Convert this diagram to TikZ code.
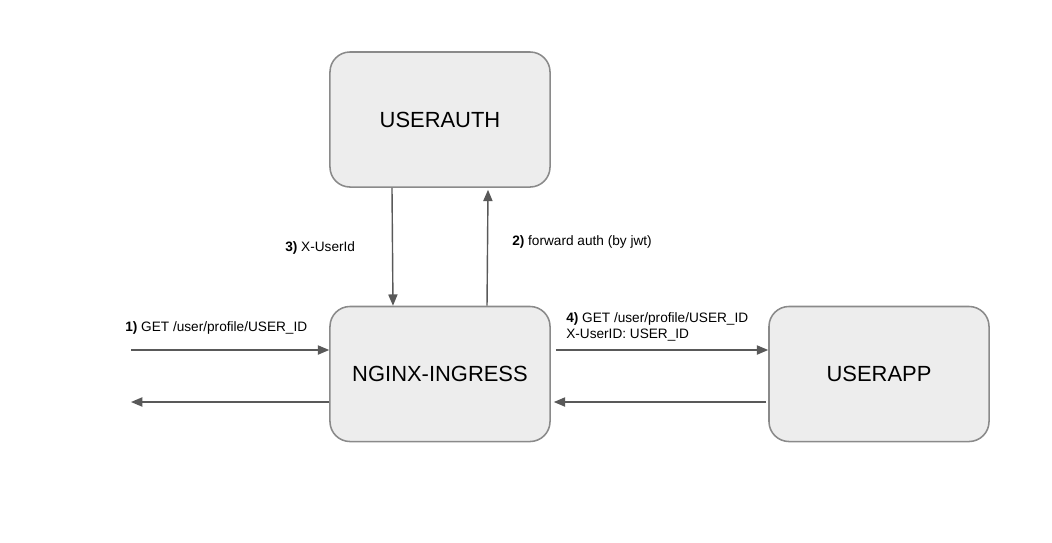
\documentclass[tikz,border=0pt]{standalone}
\usepackage{fontspec}
\setmainfont{Liberation Sans}
\usetikzlibrary{positioning,arrows.meta,calc}
\definecolor{boxfill}{HTML}{EDEDED}
\definecolor{boxline}{HTML}{8A8A8A}
\definecolor{arrowgray}{HTML}{595959}

\begin{document}
\begin{tikzpicture}[x=0.025cm, y=-0.025cm,
    service/.style = {draw=boxline, fill=boxfill, line width=1.1pt, rounded corners=0.5cm,
                      minimum width=5.5cm, minimum height=3.375cm, font=\fontsize{15.6}{18}\selectfont},
    flow/.style = {draw=arrowgray, line width=1pt, -{Triangle[length=8pt, width=6.5pt]}},
    note/.style = {anchor=west, font=\fontsize{9.7}{11.5}\selectfont, inner sep=0pt, align=left}]
    \useasboundingbox (0, 0) rectangle (1052, 542);
    % SERVICES
    \node[service] (userauth) at (440, 119.5) {USERAUTH};
    \node[service] (nginx) at (440, 374) {NGINX-INGRESS};
    \node[service] (userapp) at (879, 374) {USERAPP};
    % CLIENT SIDE
    \coordinate (clientin) at (131, 350);
    \coordinate (clientout) at (131, 402);
    \draw[flow] (clientin) -- (nginx.west |- clientin);
    \draw[flow] (nginx.west |- clientout) -- (clientout);
    \node[note] at (125, 328) {\textbf{1)} GET /user/profile/USER\_ID};
    % AUTH ROUND TRIP
    \draw[flow] ([xshift=1.175cm]nginx.north) -- ([xshift=1.2cm, yshift=-0.05cm]userauth.south);
    \node[note] at (512, 242) {\textbf{2)} forward auth (by jwt)};
    \draw[flow] ([xshift=-1.2cm]userauth.south) -- ([xshift=-1.175cm]nginx.north);
    \node[note] at (285, 248) {\textbf{3)} X-UserId};
    % UPSTREAM
    \draw[flow] ([xshift=0.125cm]nginx.east |- clientin) -- (userapp.west |- clientin);
    \node[note] at (566, 327) {\textbf{4)} GET /user/profile/USER\_ID\\X-UserID: USER\_ID};
    \draw[flow] ([xshift=-0.05cm]userapp.west |- clientout) -- ([xshift=0.075cm]nginx.east |- clientout);
\end{tikzpicture}
\end{document}
